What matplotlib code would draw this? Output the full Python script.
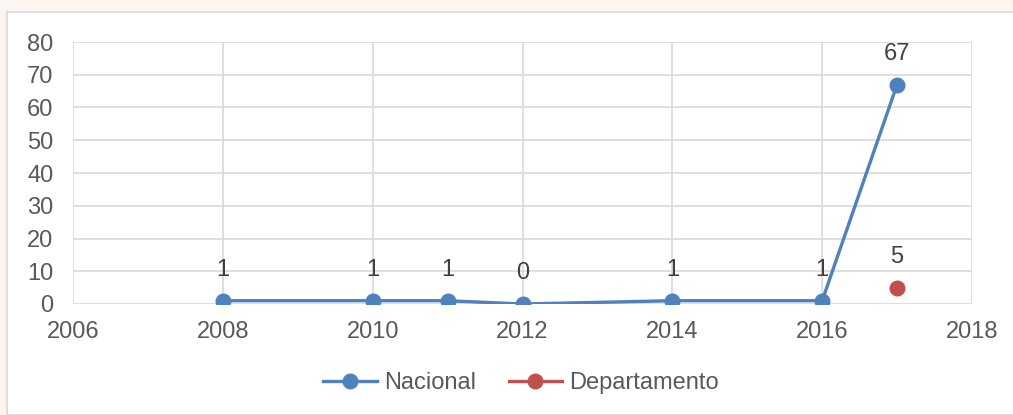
import matplotlib.pyplot as plt
from matplotlib.patches import Rectangle

# data
years_nac = [2008, 2010, 2011, 2012, 2014, 2016, 2017]
nacional = [1, 1, 1, 0, 1, 1, 67]
years_dep = [2017]
departamento = [5]

blue = '#4f81bd'
red = '#c0504d'
txt = '#595959'

plt.rcParams['font.family'] = ['Liberation Sans', 'DejaVu Sans']

fig = plt.figure(figsize=(10.13, 4.15), dpi=100)
fig.patch.set_facecolor('#fdf6f0')
fig.patches.append(Rectangle((7 / 1013, 0), 1.0, 1 - 12 / 415, transform=fig.transFigure,
                             facecolor='white', edgecolor='#d9d9d9', lw=1.2, zorder=-5))

ax = fig.add_axes([73 / 1013, 1 - 304 / 415, (972 - 73) / 1013, (304 - 42) / 415])
ax.set_zorder(2)
ax.set_facecolor('white')

ax.plot(years_nac, nacional, color=blue, lw=2.4, marker='o', ms=10.5, label='Nacional', zorder=3)
ax.plot(years_dep, departamento, color=red, lw=2.4, marker='o', ms=10.5, label='Departamento', zorder=3)

for x, y in zip(years_nac, nacional):
    ax.annotate(str(y), (x, y), xytext=(0, 22), textcoords='offset points',
                ha='center', va='center', fontsize=17, color='#404040')
for x, y in zip(years_dep, departamento):
    ax.annotate(str(y), (x, y), xytext=(0, 22), textcoords='offset points',
                ha='center', va='center', fontsize=17, color='#404040')

ax.set_xlim(2006, 2018)
ax.set_ylim(0, 80)
ax.set_xticks(range(2006, 2019, 2))
ax.set_yticks(range(0, 81, 10))
ax.grid(True, color='#d9d9d9', lw=1.2)
ax.set_axisbelow(True)
for s in ax.spines.values():
    s.set_visible(False)
ax.tick_params(length=0, labelsize=17, labelcolor=txt)
ax.tick_params(axis='x', pad=12)
ax.tick_params(axis='y', pad=14)

leg = fig.legend(loc='center', bbox_to_anchor=(521 / 1013, 1 - 383 / 415), ncol=2, frameon=False,
                 fontsize=17, labelcolor=txt, handlelength=2.25, handletextpad=0.3, columnspacing=1.4)
leg.set_zorder(3)

fig.savefig('out.png', dpi=100, facecolor=fig.get_facecolor())
